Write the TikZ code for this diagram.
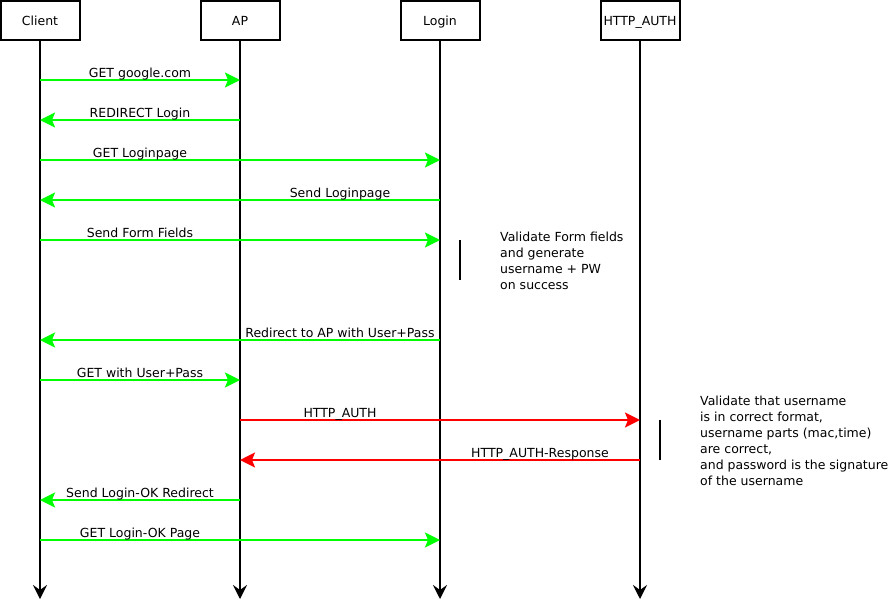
\documentclass[tikz,border=0pt]{standalone}
\usepackage{fontspec}
\setmainfont{DejaVu Sans}
\usetikzlibrary{arrows.meta}
\definecolor{msggreen}{HTML}{00FF00}
\definecolor{msgred}{HTML}{FF0000}
\tikzset{
  actor/.style={draw=black, line width=2pt, fill=white, minimum width=79pt, minimum height=39pt, inner sep=0pt, text height=9pt, text depth=0pt},
  life/.style={draw=black, line width=2pt, -{Stealth[length=14pt,width=14pt,inset=5pt]}},
  msg/.style={line width=2pt, -{Stealth[length=15pt,width=15pt,inset=3pt]}},
  okmsg/.style={msg, draw=msggreen, color=msggreen},
  authmsg/.style={msg, draw=msgred, color=msgred},
  lbl/.style={anchor=base, yshift=2.5pt, inner sep=0pt, text=black},
  notebar/.style={draw=black, line width=2pt},
  notetext/.style={anchor=base west, inner sep=0pt, text=black}
}
\begin{document}
\begin{tikzpicture}[x=1pt, y=-1pt, font=\fontsize{12.5}{16}\selectfont]
\useasboundingbox (0,0) rectangle (893,603);
% actors
\node[actor] (client) at (40,20.5) {Client};
\node[actor] (ap) at (240,20.5) {AP};
\node[actor] (login) at (440,20.5) {Login};
\node[actor] (auth) at (640,20.5) {HTTP\_AUTH};
\coordinate (bot) at (0,599);
\foreach \a in {client,ap,login,auth}
  \draw[life] (\a.south) -- (\a.south |- bot);
% message rows
\coordinate (m1) at (0,80);
\coordinate (m2) at (0,120);
\coordinate (m3) at (0,160);
\coordinate (m4) at (0,200);
\coordinate (m5) at (0,240);
\coordinate (m6) at (0,340);
\coordinate (m7) at (0,380);
\coordinate (m8) at (0,420);
\coordinate (m9) at (0,460);
\coordinate (m10) at (0,500);
\coordinate (m11) at (0,540);
\draw[okmsg] (client |- m1) -- node[lbl, pos=.5] {GET google.com} (ap |- m1);
\draw[okmsg] (ap |- m2) -- node[lbl, pos=.5] {REDIRECT Login} (client |- m2);
\draw[okmsg] (client |- m3) -- node[lbl, pos=.25] {GET Loginpage} (login |- m3);
\draw[okmsg] (login |- m4) -- node[lbl, pos=.25] {Send Loginpage} (client |- m4);
\draw[okmsg] (client |- m5) -- node[lbl, pos=.25] {Send Form Fields} (login |- m5);
\draw[okmsg] (login |- m6) -- node[lbl, pos=.25] {Redirect to AP with User+Pass} (client |- m6);
\draw[okmsg] (client |- m7) -- node[lbl, pos=.5] {GET with User+Pass} (ap |- m7);
\draw[authmsg] (ap |- m8) -- node[lbl, pos=.25] {HTTP\_AUTH} (auth |- m8);
\draw[authmsg] (auth |- m9) -- node[lbl, pos=.25] {HTTP\_AUTH-Response} (ap |- m9);
\draw[okmsg] (ap |- m10) -- node[lbl, pos=.5] {Send Login-OK Redirect} (client |- m10);
\draw[okmsg] (client |- m11) -- node[lbl, pos=.25] {GET Login-OK Page} (login |- m11);
% notes
\coordinate (b1t) at (460,240);
\coordinate (b1b) at (460,280);
\draw[notebar] (b1t) -- (b1b);
\node[notetext] (note1) at (500,241) {\begin{tabular}[t]{@{}l@{}}Validate Form fields\\and generate\\username + PW\\on success\end{tabular}};
\coordinate (b2t) at (660,420);
\coordinate (b2b) at (660,460);
\draw[notebar] (b2t) -- (b2b);
\node[notetext] (note2) at (700,405) {\begin{tabular}[t]{@{}l@{}}Validate that username\\is in correct format,\\username parts (mac,time)\\are correct,\\and password is the signature\\of the username\end{tabular}};
\end{tikzpicture}
\end{document}
